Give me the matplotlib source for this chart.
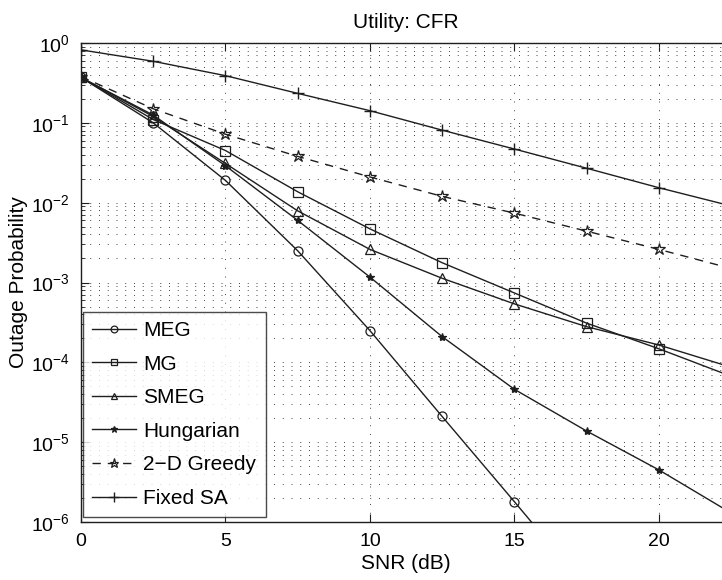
import matplotlib
matplotlib.use("Agg")
import matplotlib.pyplot as plt
import numpy as np
from matplotlib.ticker import LogLocator, NullFormatter

plt.rcParams['font.family'] = ['Liberation Sans', 'DejaVu Sans']

snr = [0, 2.5, 5, 7.5, 10, 12.5, 15, 17.5, 20, 22.5]

meg = [0.37, 0.10, 0.019, 0.0025, 2.5e-4, 2.1e-5, 1.8e-6, 1.5e-7, 1e-8, 1e-9]
mg = [0.37, 0.11, 0.045, 0.0137, 0.0047, 0.00177, 7.4e-4, 3.1e-4, 1.48e-4, 6.7e-5]
smeg = [0.37, 0.12, 0.031, 0.0079, 0.0026, 0.00113, 5.4e-4, 2.8e-4, 1.65e-4, 8.7e-5]
hungarian = [0.37, 0.125, 0.029, 0.006, 0.00117, 2.1e-4, 4.6e-5, 1.38e-5, 4.5e-6, 1.3e-6]
greedy = [0.38, 0.15, 0.072, 0.038, 0.021, 0.012, 0.0074, 0.0044, 0.0026, 0.0015]
fixed_sa = [0.82, 0.59, 0.39, 0.234, 0.142, 0.081, 0.047, 0.027, 0.0154, 0.0091]

fig = plt.figure(figsize=(7.22, 5.8), dpi=100)
ax = fig.add_axes([81 / 722, 0.1, 650 / 722, 479 / 580])

lc = '#1e1e1e'
kw = dict(color=lc, lw=1.0, markersize=6.5, markerfacecolor='none', markeredgewidth=0.9)
ax.semilogy(snr, meg, '-', marker='o', label='MEG', **kw)
ax.semilogy(snr, mg, '-', marker='s', label='MG', **kw)
ax.semilogy(snr, smeg, '-', marker='^', label='SMEG', **kw)
ax.semilogy(snr, hungarian, '-', marker='*', label='Hungarian',
            color=lc, lw=1.0, markersize=6, markeredgewidth=0.9)
ax.semilogy(snr, greedy, '--', marker='*', label='2\u2212D Greedy',
            color=lc, lw=1.0, markersize=9, markerfacecolor='none',
            markeredgewidth=0.9, dashes=(6, 5))
ax.semilogy(snr, fixed_sa, '-', marker='+', label='Fixed SA',
            color=lc, lw=1.0, markersize=9, markeredgewidth=1.0)

ax.set_xlim(0, 22.5)
ax.set_ylim(1e-6, 1)
ax.set_xticks([0, 5, 10, 15, 20])
ax.yaxis.set_major_locator(LogLocator(base=10, numticks=10))
ax.yaxis.set_minor_locator(LogLocator(base=10, subs=np.arange(2, 10), numticks=20))
ax.yaxis.set_minor_formatter(NullFormatter())

dot = (0, (1, 8))
ax.grid(True, which='major', axis='both', color='#444444', lw=0.7, linestyle=dot)
ax.grid(True, which='minor', axis='y', color='#444444', lw=0.7, linestyle=dot)

ax.tick_params(which='both', direction='in', top=True, right=True,
               labelsize=14, pad=8, color=lc)
ax.tick_params(which='major', length=6)
ax.tick_params(which='minor', length=3)
for s in ax.spines.values():
    s.set_color(lc)
    s.set_linewidth(1.0)

ax.set_xlabel('SNR (dB)', fontsize=15, labelpad=3)
ax.set_ylabel('Outage Probability', fontsize=15, labelpad=2)
ax.set_title('Utility: CFR', fontsize=15, pad=11)

leg = ax.legend(loc='lower left', bbox_to_anchor=(0.003, 0.01), fontsize=15,
                frameon=True, fancybox=False, edgecolor=lc, handlelength=2.1,
                handletextpad=0.35, borderpad=0.45, labelspacing=0.7,
                markerscale=0.75, borderaxespad=0)
leg.get_frame().set_linewidth(1.0)

fig.savefig('out.png', dpi=100)
